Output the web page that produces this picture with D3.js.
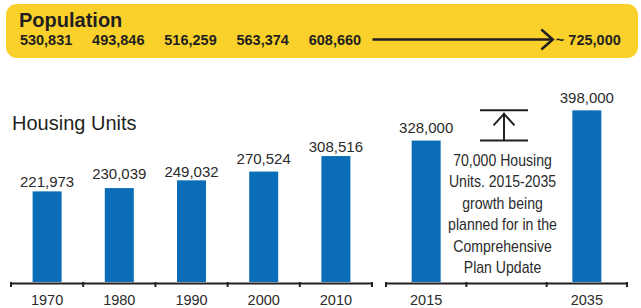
<!DOCTYPE html>
<html><head><meta charset="utf-8">
<script src="https://cdn.jsdelivr.net/npm/d3@7"></script>
<style>body{margin:0;background:#fff}svg{display:block}text{font-family:"Liberation Sans",Arial,sans-serif}</style>
</head><body>
<svg id="chart" width="641" height="308"></svg>
<script>
// ---- data ----
const years = ["1970", "1980", "1990", "2000", "2010"];
const housing = [221973, 230039, 249032, 270524, 308516];
const population = [530831, 493846, 516259, 563374, 608660];
const projYears = ["2015", "", "2035"];
const projHousing = [328000, null, 398000];
const projPopulation = "~ 725,000";
const annotationLines = ["70,000 Housing", "Units. 2015-2035", "growth being", "planned for in the", "Comprehensive", "Plan Update"];
// layout only
const labelLift = [4, 9, 3, 8, 4];

const ink = "#231F20", blue = "#0B6DB7", yellow = "#F9D12A";
const fmt = d3.format(",");
const svg = d3.select("#chart");
const base = 282;

const xL = d3.scaleBand().domain(years).range([11, 372]).padding(0);
const xR = d3.scaleBand().domain(projYears).range([386, 627]).padding(0);
const yL = d3.scaleLinear().domain([0, 400000]).range([base, base - 163.3]);
const yR = d3.scaleLinear().domain([0, 400000]).range([base, base - 172.5]);
const barW = 29;

// ---- population banner ----
svg.append("rect").attr("x", 6).attr("y", 4).attr("width", 632).attr("height", 54)
  .attr("rx", 11).attr("fill", yellow);
svg.append("text").attr("x", 19).attr("y", 27).attr("font-size", 20).attr("font-weight", "bold")
  .attr("fill", ink).text("Population");
svg.selectAll(".pop").data(population).enter().append("text")
  .attr("x", (d, i) => xL(years[i]) + xL.bandwidth() / 2 - 1)
  .attr("y", 45).attr("text-anchor", "middle").attr("font-size", 14.5).attr("font-weight", "bold")
  .attr("fill", ink).text(d => fmt(d));
const tipX = xR("2035") + xR.bandwidth() / 2 - 34;
svg.append("line").attr("x1", 372.5).attr("x2", tipX).attr("y1", 39.5).attr("y2", 39.5)
  .attr("stroke", ink).attr("stroke-width", 2.5);
svg.append("path").attr("d", `M${tipX - 11.5},29.5L${tipX},39.5L${tipX - 11.5},49.5`)
  .attr("fill", "none").attr("stroke", ink).attr("stroke-width", 2.5);
svg.append("text").attr("x", xR("2035") + xR.bandwidth() / 2 + 1.5).attr("y", 45)
  .attr("text-anchor", "middle").attr("font-size", 14.5).attr("font-weight", "bold")
  .attr("fill", ink).text(projPopulation);

// ---- title ----
svg.append("text").attr("x", 12).attr("y", 130).attr("font-size", 20).attr("fill", ink).text("Housing Units");

// ---- bars ----
function drawPanel(x, y, cats, vals, lifts) {
  const g = svg.append("g");
  const items = cats.map((c, i) => ({ c, v: vals[i], lift: lifts[i] })).filter(d => d.v != null);
  g.selectAll("rect").data(items).enter().append("rect")
    .attr("x", d => x(d.c) + x.bandwidth() / 2 - barW / 2).attr("width", barW)
    .attr("y", d => y(d.v)).attr("height", d => base - y(d.v)).attr("fill", blue);
  g.selectAll(".val").data(items).enter().append("text")
    .attr("x", d => x(d.c) + x.bandwidth() / 2).attr("y", d => y(d.v) - d.lift)
    .attr("text-anchor", "middle").attr("font-size", 15).attr("fill", "#2b2b2b").text(d => fmt(d.v));
  // axis
  const ax = svg.append("g").attr("transform", `translate(0,283.5)`)
    .call(d3.axisBottom(x).tickSize(0).tickSizeOuter(0).tickPadding(0));
  ax.select(".domain").attr("stroke", ink).attr("stroke-width", 2)
    .attr("d", `M${x.range()[0] - 0.5},0H${x.range()[1] + 0.5}`);
  ax.selectAll(".tick text").attr("y", 21).attr("dy", 0).attr("font-size", 14.5)
    .attr("fill", "#2b2b2b").attr("font-family", null);
  const bounds = x.domain().map(d => x(d)).concat([x.range()[1]]);
  ax.selectAll(".edge").data(bounds).enter().append("line")
    .attr("x1", d => d).attr("x2", d => d).attr("y1", -1.5).attr("y2", 3.5)
    .attr("stroke", ink).attr("stroke-width", 2);
}
drawPanel(xL, yL, years, housing, labelLift);
drawPanel(xR, yR, projYears, projHousing, [7.4, 0, 7.4]);

// ---- growth annotation ----
const mid = xR("") + xR.bandwidth() / 2 - 2.5;
const yTop = yR(projHousing[2]), yBot = yR(projHousing[0]);
const ann = svg.append("g").attr("stroke", ink).attr("stroke-width", 2).attr("fill", "none");
ann.append("line").attr("x1", mid - 24).attr("x2", mid + 24).attr("y1", yTop).attr("y2", yTop);
ann.append("line").attr("x1", mid - 24).attr("x2", mid + 24).attr("y1", yBot).attr("y2", yBot);
ann.append("line").attr("x1", mid).attr("x2", mid).attr("y1", yBot).attr("y2", yTop + 2.5);
ann.append("path").attr("d", `M${mid - 10.5},${yTop + 15}L${mid},${yTop + 3.5}L${mid + 10.5},${yTop + 15}`);

const tg = svg.append("g").attr("transform", `translate(${mid - 1.5},0) scale(0.88,1)`);
tg.selectAll("text").data(annotationLines).enter().append("text")
  .attr("x", 0).attr("y", (d, i) => 166 + i * 21.5).attr("text-anchor", "middle")
  .attr("font-size", 16).attr("fill", "#2b2b2b").text(d => d);
</script>
</body></html>
